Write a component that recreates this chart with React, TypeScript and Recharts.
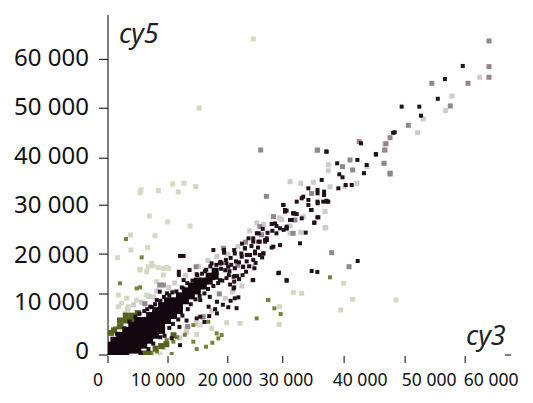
import { ScatterChart, Scatter, XAxis, YAxis, ReferenceLine } from 'recharts';

const xTicks = [0, 10000, 20000, 30000, 40000, 50000, 60000];
const yTicks = [0, 10000, 20000, 30000, 40000, 50000, 60000];
const xLabels = ['0', '10 000', '20 000', '30 000', '40 000', '50 000', '60 000'];
const yLabels = ['0', '10 000', '20 000', '30 000', '40 000', '50 000', '60 000'];

// the hand-made axis of the original is not regular, these shift marks and labels off the scale
const xTickShift = [0, 0.5, 0.7, -3.8, -2, -0.5, 0];
const xLabelShift = [-10, -9.5, -2, -0.5, 14, 23.5, 26];
const yTickShift = [0, -11.7, -2.4, -2, 0.3, -0.4, 0];
const yLabelShift = [-5, -4.7, -2.4, -3, -2.7, -2.4, -2];

// solid core of the cloud along the diagonal
const bandPoints = [
  [0, 0], [0, 1000], [0, 2000],
  [1000, 0], [1000, 1000], [1000, 2000], [1000, 3000],
  [2000, 0], [2000, 1000], [2000, 2000], [2000, 3000], [2000, 4000],
  [3000, 0], [3000, 1000], [3000, 2000], [3000, 3000], [3000, 4000], [3000, 5000],
  [4000, 1000], [4000, 2000], [4000, 3000], [4000, 4000], [4000, 5000], [4000, 6000],
  [5000, 1000], [5000, 2000], [5000, 3000], [5000, 4000], [5000, 5000], [5000, 6000], [5000, 7000],
  [6000, 2000], [6000, 3000], [6000, 4000], [6000, 5000], [6000, 6000], [6000, 7000],
  [7000, 3000], [7000, 4000], [7000, 5000], [7000, 6000], [7000, 7000], [7000, 8000],
  [8000, 4000], [8000, 5000], [8000, 6000], [8000, 7000], [8000, 8000], [8000, 9000],
  [9000, 5000], [9000, 6000], [9000, 7000], [9000, 8000], [9000, 9000], [9000, 10000],
  [10000, 7000], [10000, 8000], [10000, 9000], [10000, 10000], [10000, 11000],
  [11000, 8000], [11000, 9000], [11000, 10000], [11000, 11000],
  [12000, 9000], [12000, 10000], [12000, 11000], [12000, 12000],
  [13000, 11000], [13000, 12000], [13000, 13000],
  [14000, 12000], [14000, 13000], [14000, 14000],
  [15000, 13000], [15000, 14000], [15000, 15000],
  [16000, 14000], [16000, 15000],
  [17000, 15000], [17000, 16000],
  [18000, 16000], [18000, 17000],
];

const darkPoints = [
  [12100, 20100], [12700, 20100], [11900, 16900], [11900, 16230], [13700, 17250], [14900, 16400], [16300, 17000],
  [17700, 21300], [19500, 21300], [19500, 20770], [21200, 21300], [23000, 21650], [23300, 20300], [24700, 20630],
  [25300, 24700], [26400, 23340], [24400, 23000], [25500, 23000], [26700, 23340], [24400, 15200], [21100, 15900],
  [21700, 16000], [22700, 17900], [19900, 18600], [18800, 18600], [21100, 13500], [21300, 11500], [21600, 9500],
  [20200, 9700], [18300, 8450], [16900, 9800], [15500, 7770], [14900, 7430], [12700, 15200], [12700, 13500],
  [8700, 12850], [9900, 12500], [7100, 9800], [8200, 11150], [12100, 2000], [10700, 3400], [15500, 11150],
  [17100, 11800], [18300, 10800], [18800, 15200], [17700, 15600], [16600, 15200],
  [28060, 26700], [27500, 26590], [28300, 26200], [29460, 30450], [29740, 29100], [31100, 28760], [30860, 27400],
  [30000, 25700], [29500, 25400], [28300, 24700], [28900, 22300], [27500, 21800], [26400, 23000], [26660, 23680],
  [25000, 24700], [24400, 23680], [25260, 23000], [23600, 23680], [23000, 21650], [23860, 20300], [24700, 21000],
  [25500, 20300], [26100, 20600], [24400, 19300], [22460, 19950], [21300, 20600], [22700, 17900], [21300, 16030],
  [20200, 17900], [19100, 18600], [18000, 17250], [17400, 18600], [24300, 15200], [28600, 16600], [30000, 15200],
  [21200, 13730],
  [47900, 45100], [45000, 40800], [43000, 36900], [43460, 38560], [41900, 39580], [42500, 42960], [39400, 36060],
  [38860, 36670], [38500, 38900], [36700, 41300], [35900, 35520], [33660, 33830], [35200, 33500], [36300, 33150],
  [36300, 32470], [35200, 32800], [32800, 32130], [33660, 31460], [32540, 31800], [31700, 31120], [35200, 31120],
  [36700, 31300], [37000, 31120], [36150, 31120], [34200, 29430], [33660, 30440], [30000, 29290], [31300, 28750],
  [31700, 28600], [30580, 27400], [32540, 27730], [35340, 27940], [34660, 26850], [30000, 25700], [40940, 34500],
  [39930, 34500], [38700, 33830],
  [59600, 58660], [56600, 56000], [55400, 52000], [49336, 50400], [52300, 50400], [52580, 48570], [48160, 45190],
  [45000, 40650], [36700, 41260],
  [41944, 19076], [28728, 16700], [30016, 15080], [34216, 17045], [35168, 16840], [32256, 22660], [33208, 24830],
  [34664, 26860], [35168, 27950], [34100, 29430], [35224, 30790], [36736, 31130], [27776, 21990], [26096, 20630],
  [31136, 28760], [29736, 29430], [29456, 30450], [28896, 25710], [30016, 26050],
];

// dark specks along the upper and lower edges of the core
const upperEdgePoints = [
  [1500, 4300], [2800, 5400], [3600, 6800], [4600, 7800], [5300, 8400], [6100, 8900], [6600, 9300], [7400, 9700],
  [7900, 10300], [8800, 11000], [9400, 11800], [10300, 12100], [10800, 12700], [11500, 12900], [12400, 13700],
  [13300, 14600], [14200, 15100], [15000, 16200], [15800, 16500], [16500, 17300], [17200, 18000], [18200, 18300],
  [18900, 18900], [19800, 19300], [20600, 19700], [21500, 19000], [22400, 20600], [22000, 18800], [20700, 18300],
  [23300, 19000], [25200, 21800], [24100, 22100], [22500, 22600], [26800, 24800], [27600, 25200], [26000, 25600],
  [19000, 17500], [19700, 17200], [20400, 17000], [20300, 16200], [21300, 17600],
];

const lowerEdgePoints = [
  [5500, 400], [6800, 1200], [7600, 2300], [8800, 3600], [9500, 3900], [10300, 5500], [10900, 6300], [11800, 7200],
  [12500, 8000], [13400, 9300], [13900, 10300], [14700, 11300], [15400, 12000], [16200, 12500], [16800, 13400],
  [17700, 14000], [18500, 14600], [19200, 15100], [19900, 15600], [20500, 14300], [21200, 14900], [22000, 15400],
  [22600, 16200], [23200, 16900], [23700, 18000], [24800, 18700], [25900, 19800], [21900, 11700], [20600, 11000],
  [19300, 10200], [18000, 9300], [17000, 7900], [16200, 6700], [24600, 17600], [13200, 7000], [12000, 5700],
];

const midPoints = [
  [64000, 63740], [64000, 58525], [64000, 56360], [60480, 55140], [54400, 55140], [57500, 50540], [50460, 46610],
  [47376, 44100], [46700, 42890], [47376, 36725], [40488, 17925], [37576, 20770], [25650, 41600], [26600, 32200],
  [40660, 39580], [39400, 38230], [41100, 37550], [35200, 41600], [34200, 32800], [31400, 27400], [27800, 28080],
  [31100, 24700], [25500, 26050], [19400, 21650], [9300, 14200], [16000, 7770], [8700, 14200], [25800, 24400],
  [42200, 43300], [46500, 41600], [46370, 38900], [47400, 36900],
  [14800, 17900], [23100, 22900], [21800, 18200], [13400, 5800], [18700, 12400], [6200, 10400],
];

const palePoints = [
  [62440, 56360], [57800, 52570], [56730, 49590], [52960, 47900], [52000, 45120], [46536, 41600], [46368, 38890],
  [35056, 41460], [37000, 38600], [37000, 37400], [32370, 34840], [30580, 35180], [34500, 35050], [37300, 34160],
  [41800, 34840], [39800, 34160], [43500, 38230], [46500, 42800], [36460, 29100], [36460, 25800], [36568, 25840],
  [32816, 28080], [30576, 24700], [27776, 28080],
  [3300, 9300], [4300, 10200], [5600, 10700], [6800, 11900], [8200, 13000], [10200, 13700], [11200, 14600],
  [13000, 16200], [15200, 18000], [16800, 19200], [18300, 20000], [20100, 20500], [21800, 22000], [13200, 4700],
  [14900, 6400], [15900, 7600], [17400, 9000], [19700, 11500], [20900, 12800], [22500, 14000], [12000, 3500],
  [9400, 1500], [23800, 25200], [26100, 26500], [25000, 26800], [28800, 27800], [24300, 18000], [29200, 27500],
  [30600, 26200], [32400, 24900],
];

const olivePoints = [
  [3024, 23540], [5376, 13730], [4816, 13520], [2296, 6080], [1176, 5400], [3976, 7770], [3136, 7100],
  [26880, 11155], [27944, 9470], [29008, 8310], [37296, 15760], [14336, 6080], [16856, 6750], [18256, 4385],
  [19096, 4050], [18536, 3370], [14336, 2700], [14896, 1200], [16464, 1680], [17528, 2490], [9856, 3030],
  [8736, 2000], [10696, 200], [10976, 2700], [24976, 7430], [26936, 11155], [2016, 14540], [5656, 19820],
  [7300, 400], [8200, 700], [11600, 3600], [12900, 4100], [5400, 200],
];

const olivePatchPoints = [
  [500, 4500], [1000, 5000], [2000, 5800], [2000, 7000], [3000, 7000], [3000, 8000], [4000, 7000], [4000, 8000],
  [5000, 8500], [6000, 300], [6800, 300], [8000, 1300], [9000, 1800], [9800, 2200], [11000, 4000],
];

const paleOlivePoints = [
  [24400, 64150], [15300, 50100], [5544, 33490], [5376, 32950], [8456, 33360], [10864, 34710], [12768, 34850],
  [11816, 33090], [14728, 34170], [6944, 28210], [10024, 27000], [13776, 26180], [3808, 24350], [7896, 24220],
  [3864, 21300], [6664, 21780], [1624, 19750], [7336, 18600], [7616, 18060], [5376, 17380], [6776, 17900],
  [8456, 17720], [9856, 17780], [1736, 12170], [3136, 11500], [2296, 10480], [3416, 9800], [4816, 11150],
  [6500, 12170], [7616, 11830], [5376, 17250], [6500, 16910], [9300, 17580], [10136, 17580], [9300, 16230],
  [8176, 14880], [11000, 12850], [1736, 9800], [2856, 8450], [15456, 6080], [17416, 5400], [14896, 4180],
  [19936, 6550], [22176, 6415], [8736, 200], [13216, 5400], [28784, 9800], [28728, 6215], [31136, 12710],
  [32536, 12510], [39592, 14540], [41104, 11290], [39088, 9125], [48384, 11155],
];

const toXY = (pairs: number[][]) => pairs.map(([x, y]) => ({ x, y }));

const square = (size: number, fill: string, blur: number) => (props: any) => (
  <rect
    x={props.cx - size / 2}
    y={props.cy - size / 2}
    width={size}
    height={size}
    fill={fill}
    style={blur ? { filter: `blur(${blur}px)` } : undefined}
  />
);

const font = 'Tahoma, "Noto Sans", sans-serif';

const XTick = ({ x, y, index }: any) => (
  <g>
    <line x1={x + xTickShift[index]} x2={x + xTickShift[index]} y1={y + 1} y2={y + 8} stroke="#000" />
    <text x={x + xLabelShift[index]} y={y + 31} textAnchor="middle" fontSize={17.5} fontFamily={font} fill="#111">
      {xLabels[index]}
    </text>
  </g>
);

const YTick = ({ x, y, index }: any) => (
  <g>
    <line x1={99} x2={108} y1={y + yTickShift[index]} y2={y + yTickShift[index]} stroke="#000" />
    <text x={89} y={y + yLabelShift[index] + 8.5} textAnchor="end" fontSize={24} fontFamily={font} fill="#111">
      {yLabels[index]}
    </text>
  </g>
);

const captionStyle: React.CSSProperties = {
  position: 'absolute',
  fontFamily: font,
  fontStyle: 'italic',
  fontSize: 27,
  lineHeight: '30px',
  color: '#222',
};

export default function App() {
  return (
    <div style={{ position: 'absolute', left: 0, top: 0, width: 533, height: 403, background: '#fff' }}>
      <ScatterChart width={533} height={403} margin={{ top: 15, right: 22, bottom: 0, left: 0 }}>
        <XAxis
          type="number"
          dataKey="x"
          domain={[0, 67700]}
          ticks={xTicks}
          interval={0}
          height={48}
          axisLine={false}
          tickLine={false}
          tickSize={0}
          tickMargin={0}
          tick={<XTick />}
          allowDataOverflow
        />
        <YAxis
          type="number"
          dataKey="y"
          domain={[0, 69000]}
          ticks={yTicks}
          interval={0}
          width={108}
          axisLine={{ stroke: '#000' }}
          tickLine={false}
          tickSize={0}
          tickMargin={0}
          tick={<YTick />}
          allowDataOverflow
        />
        <Scatter data={toXY(palePoints)} shape={square(5, '#d0c9ce', 0.6)} isAnimationActive={false} />
        <Scatter data={toXY(paleOlivePoints)} shape={square(5, '#d5d8c3', 0.6)} isAnimationActive={false} />
        <Scatter data={toXY(midPoints)} shape={square(5, '#93868e', 0.6)} isAnimationActive={false} />
        <Scatter data={toXY(olivePoints)} shape={square(4, '#76843c', 0.5)} isAnimationActive={false} />
        <Scatter data={toXY(olivePatchPoints)} shape={square(6, '#55631e', 0.4)} isAnimationActive={false} />
        <Scatter data={toXY(darkPoints)} shape={square(4, '#22101b', 0.4)} isAnimationActive={false} />
        <Scatter data={toXY(upperEdgePoints)} shape={square(4, '#22101b', 0.4)} isAnimationActive={false} />
        <Scatter data={toXY(lowerEdgePoints)} shape={square(4, '#22101b', 0.4)} isAnimationActive={false} />
        <Scatter data={toXY(bandPoints)} shape={square(7, '#14060f', 0)} isAnimationActive={false} />
        <ReferenceLine
          segment={[{ x: 66700, y: 0 }, { x: 67700, y: 0 }]}
          stroke="#000"
          ifOverflow="visible"
        />
      </ScatterChart>
      <div style={{ ...captionStyle, left: 119, top: 18 }}>cy5</div>
      <div style={{ ...captionStyle, left: 466, top: 320 }}>cy3</div>
    </div>
  );
}
